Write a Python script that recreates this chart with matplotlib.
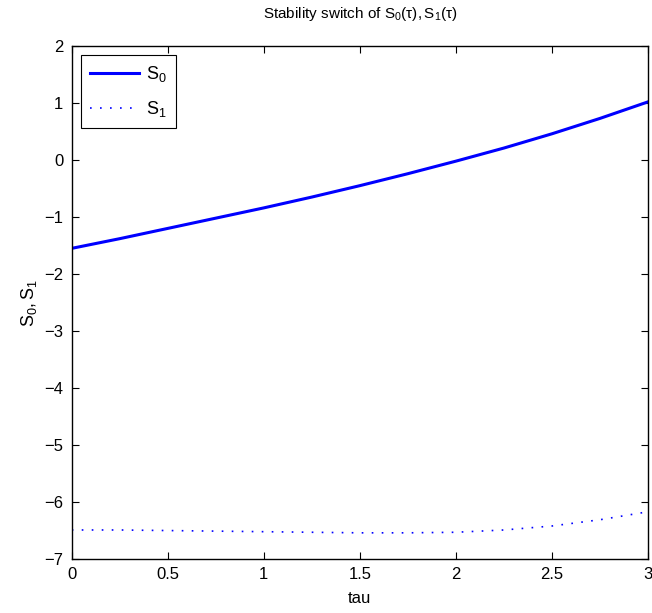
import matplotlib
matplotlib.use("Agg")
from matplotlib import pyplot as plt

# valores
tau = [0, 0.25, 0.5, 0.75, 1.0, 1.25, 1.5, 1.75, 2.0, 2.25, 2.5, 2.75, 3.0]
s0 = [-1.55, -1.38, -1.20, -1.02, -0.84, -0.65, -0.45, -0.24, -0.02, 0.21, 0.46, 0.73, 1.02]
s1 = [-6.49, -6.49, -6.50, -6.51, -6.52, -6.53, -6.54, -6.54, -6.53, -6.49, -6.42, -6.31, -6.17]

xticks = [0, 0.5, 1, 1.5, 2, 2.5, 3]
xlabels = ["0", "0.5", "1", "1.5", "2", "2.5", "3"]
yticks = [-7, -6, -5, -4, -3, -2, -1, 0, 1, 2]

plt.rcParams['font.family'] = ['Liberation Sans', 'DejaVu Sans']
plt.rcParams['mathtext.fontset'] = 'custom'
plt.rcParams['mathtext.rm'] = 'Liberation Sans'
plt.rcParams['mathtext.it'] = 'Liberation Sans'
plt.rcParams['axes.unicode_minus'] = True

fig = plt.figure(figsize=(6.52, 6.13), dpi=100)
ax = fig.add_axes([0.110, 0.088, 0.884, 0.837])

ax.plot(tau, s0, color='#0000ff', linewidth=2.2, label=r'$\mathregular{S_0}$')
ax.plot(tau, s1, color='#0000ff', linewidth=1.2, linestyle=(0, (1, 5)),
        label=r'$\mathregular{S_1}$')

ax.set_xlim(0, 3)
ax.set_ylim(-7, 2)
ax.set_xticks(xticks)
ax.set_xticklabels(xlabels)
ax.set_yticks(yticks)
ax.tick_params(direction='in', top=True, right=True, labelsize=12, length=5, width=0.8, pad=6)
for s in ax.spines.values():
    s.set_linewidth(1.0)

ax.set_xlabel('tau', fontsize=12, labelpad=6)
ax.set_ylabel(r'$\mathregular{S_0,S_1}$', fontsize=13, labelpad=4)
ax.set_title(r'Stability switch of $\mathregular{S_0(\tau),S_1(\tau)}$', fontsize=11, pad=20)

leg = ax.legend(loc='upper left', fontsize=13, fancybox=False, framealpha=1,
                edgecolor='black', handlelength=2.7, labelspacing=0.85,
                borderaxespad=0.5, handletextpad=0.4, borderpad=0.5)
leg.get_frame().set_linewidth(0.8)

fig.savefig('out.png', dpi=100)
